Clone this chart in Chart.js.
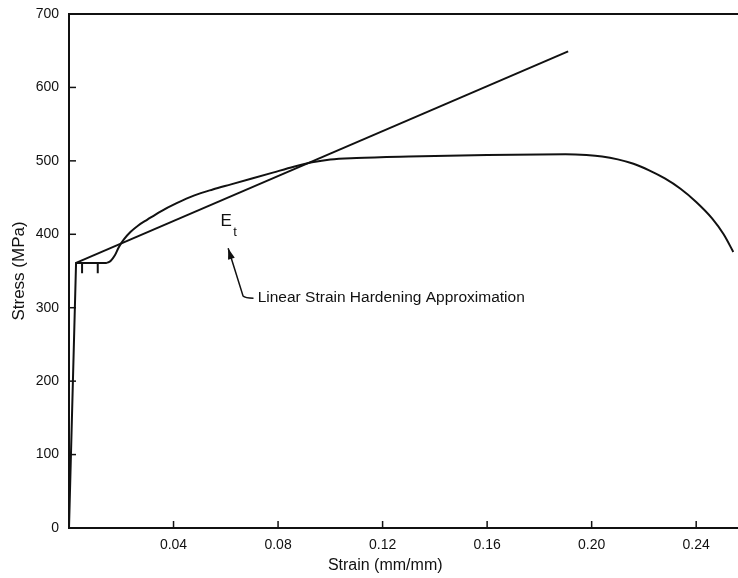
<!DOCTYPE html>
<html>
<head>
<meta charset="utf-8">
<script src="https://cdn.jsdelivr.net/npm/chart.js@4.4.1/dist/chart.umd.min.js"></script>
<style>
    html, body { margin: 0; padding: 0; background: #fff; }
    #wrap { width: 738px; height: 578px; }
</style>
</head>
<body>
<div id="wrap"><canvas id="chart" width="738" height="578"></canvas></div>
<script>
// 应力-应变曲线 (strain mm/mm, stress MPa)
// 前三个点为弹性段和屈服平台 (直线)，其余为强化与颈缩段 (平滑)
const curveStrain = [0, 0.0027, 0.0145, 0.016, 0.0175, 0.019, 0.021, 0.0235, 0.0265, 0.030, 0.035, 0.041, 0.048, 0.055, 0.062, 0.070, 0.078, 0.086, 0.093, 0.100, 0.110, 0.130, 0.160, 0.190, 0.198, 0.204, 0.210, 0.216, 0.222, 0.228, 0.234, 0.240, 0.246, 0.2505, 0.2542];
const curveStress = [0, 361, 361, 364, 371, 382, 393, 403, 412, 420, 431, 442, 453, 461, 468, 476, 484, 492, 498, 502, 504, 506, 508, 509, 508, 506, 502, 496, 487, 476, 462, 444, 422, 400, 376];
const plateauEnd = 3;

// 线性强化近似直线
const hardeningStrain = [0.0027, 0.191];
const hardeningStress = [361, 649];

// 屈服平台上的小竖线
const dropStrain = [0.005, 0.011];
const dropTop = 361;
const dropBottom = 347;

// 刻度
const xTickValues = [0.04, 0.08, 0.12, 0.16, 0.20, 0.24];
const yTickValues = [0, 100, 200, 300, 400, 500, 600, 700];

// 标注 (数据坐标)
const etLabel = { x: 0.0601, y: 418 };
const arrowPath = [[0.0609, 381], [0.0666, 316], [0.0706, 313]];
const noteLabel = { x: 0.0722, y: 314, text: 'Linear Strain Hardening Approximation' };
const xTitle = { x: 0.121, text: 'Strain (mm/mm)' };

const FONT = '"Liberation Sans", Arial, Helvetica, sans-serif';
const INK = '#111';

const toPoints = (xs, ys) => xs.map((v, i) => ({ x: v, y: ys[i] }));

const curvePoints = toPoints(curveStrain, curveStress);

const dropPoints = [];
dropStrain.forEach(s => {
    dropPoints.push({ x: s, y: dropTop }, { x: s, y: dropBottom }, { x: s + 0.0001, y: null });
});

// 自定义绘制：向内刻度、顶部边框、标注
const overlay = {
    id: 'overlay',
    afterDraw(chart) {
        const { ctx, chartArea: a, scales: { x, y } } = chart;
        const line = (x1, y1, x2, y2) => {
            ctx.beginPath();
            ctx.moveTo(x1, y1);
            ctx.lineTo(x2, y2);
            ctx.stroke();
        };
        ctx.save();
        ctx.strokeStyle = INK;
        ctx.fillStyle = INK;

        ctx.lineWidth = 1.5;
        xTickValues.forEach(v => {
            const px = x.getPixelForValue(v);
            line(px, a.bottom, px, a.bottom - 7);
        });
        yTickValues.forEach(v => {
            if (v === 0) return;
            const py = y.getPixelForValue(v);
            line(a.left, py, a.left + 7, py);
        });

        // 顶部边框 (700)
        ctx.lineWidth = 2;
        const topY = y.getPixelForValue(700);
        line(a.left, topY, a.right, topY);

        // E_t
        ctx.textBaseline = 'middle';
        ctx.textAlign = 'center';
        ctx.font = '17px ' + FONT;
        const ex = x.getPixelForValue(etLabel.x);
        const ey = y.getPixelForValue(etLabel.y);
        ctx.fillText('E', ex, ey);
        ctx.font = '13px ' + FONT;
        ctx.fillText('t', ex + 9, ey + 11);

        // 箭头引线
        const pts = arrowPath.map(p => [x.getPixelForValue(p[0]), y.getPixelForValue(p[1])]);
        ctx.lineWidth = 1.5;
        ctx.beginPath();
        ctx.moveTo(pts[0][0], pts[0][1]);
        ctx.lineTo(pts[1][0], pts[1][1]);
        ctx.quadraticCurveTo(pts[1][0] + 2, pts[2][1], pts[2][0], pts[2][1]);
        ctx.stroke();

        // 箭头
        const ang = Math.atan2(pts[0][1] - pts[1][1], pts[0][0] - pts[1][0]);
        const len = 11, half = 3.5;
        ctx.beginPath();
        ctx.moveTo(pts[0][0], pts[0][1]);
        ctx.lineTo(pts[0][0] - len * Math.cos(ang) + half * Math.sin(ang),
                   pts[0][1] - len * Math.sin(ang) - half * Math.cos(ang));
        ctx.lineTo(pts[0][0] - len * Math.cos(ang) - half * Math.sin(ang),
                   pts[0][1] - len * Math.sin(ang) + half * Math.cos(ang));
        ctx.closePath();
        ctx.fill();

        // 说明文字
        ctx.textAlign = 'left';
        ctx.font = '15.5px ' + FONT;
        ctx.fillText(noteLabel.text, x.getPixelForValue(noteLabel.x), y.getPixelForValue(noteLabel.y));

        // x 轴标题
        ctx.textAlign = 'center';
        ctx.font = '16px ' + FONT;
        ctx.fillText(xTitle.text, x.getPixelForValue(xTitle.x), 566);

        ctx.restore();
    }
};

new Chart(document.getElementById('chart'), {
    type: 'line',
    data: {
        datasets: [
            {
                data: curvePoints.slice(0, plateauEnd),
                borderColor: INK,
                borderWidth: 2,
                tension: 0,
                pointRadius: 0
            },
            {
                data: curvePoints.slice(plateauEnd - 1),
                borderColor: INK,
                borderWidth: 2,
                cubicInterpolationMode: 'monotone',
                pointRadius: 0
            },
            {
                data: toPoints(hardeningStrain, hardeningStress),
                borderColor: INK,
                borderWidth: 2,
                pointRadius: 0
            },
            {
                data: dropPoints,
                borderColor: INK,
                borderWidth: 2,
                spanGaps: false,
                pointRadius: 0
            }
        ]
    },
    options: {
        responsive: false,
        animation: false,
        devicePixelRatio: 1,
        layout: { padding: { top: 14, right: 0, left: 0, bottom: 0 } },
        plugins: {
            legend: { display: false },
            tooltip: { enabled: false }
        },
        scales: {
            x: {
                type: 'linear',
                min: 0,
                max: 0.256,
                grid: { display: false },
                border: { color: INK, width: 2 },
                afterBuildTicks: s => { s.ticks = xTickValues.map(v => ({ value: v })); },
                afterFit: s => { s.height = 50; },
                ticks: {
                    color: INK,
                    font: { family: FONT, size: 14 },
                    padding: 1,
                    maxRotation: 0,
                    autoSkip: false,
                    callback: v => v.toFixed(2)
                }
            },
            y: {
                type: 'linear',
                min: 0,
                max: 700,
                grid: { display: false },
                border: { color: INK, width: 2 },
                afterBuildTicks: s => { s.ticks = yTickValues.map(v => ({ value: v })); },
                afterFit: s => { s.width = 69; },
                ticks: {
                    color: INK,
                    font: { family: FONT, size: 14 },
                    padding: 2,
                    callback: v => String(v)
                },
                title: {
                    display: true,
                    text: 'Stress (MPa)',
                    color: INK,
                    font: { family: FONT, size: 17 },
                    padding: { top: 9, bottom: 0 }
                }
            }
        }
    },
    plugins: [overlay]
});
</script>
</body>
</html>
